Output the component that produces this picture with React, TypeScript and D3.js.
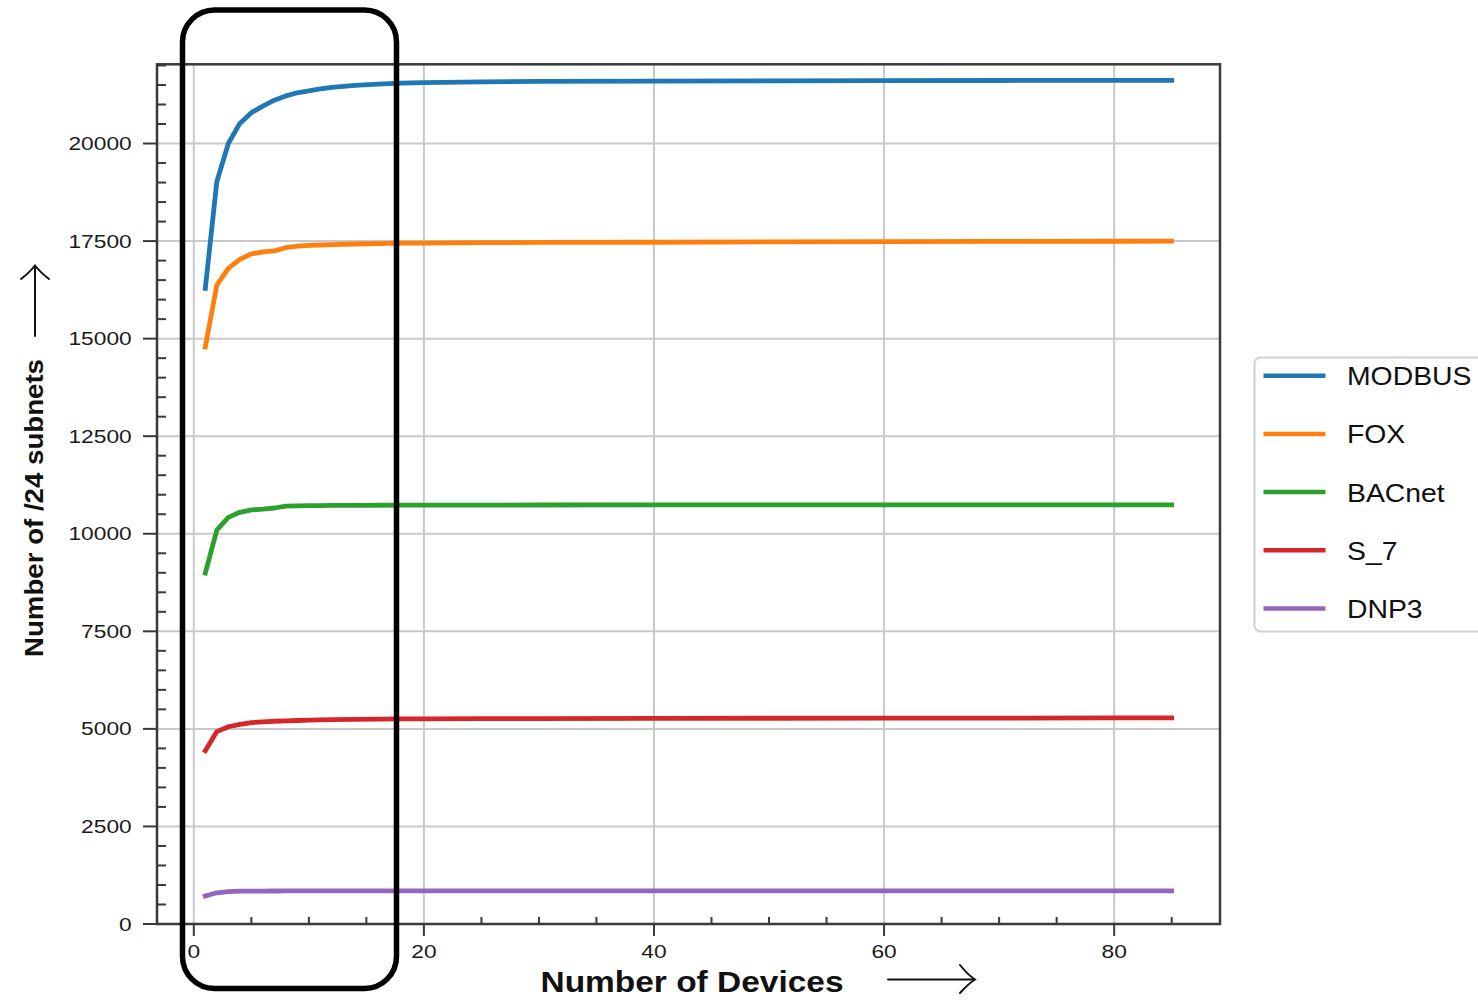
import React from "react";
import * as d3 from "d3";

// Number of devices per /24 subnet threshold
const devices = [1, 2, 3, 4, 5, 6, 7, 8, 9, 10, 11, 12, 14, 16, 18, 20, 25, 30, 40, 50, 60, 70, 80, 85];

const modbus = [16290, 19020, 20000, 20515, 20790, 20960, 21110, 21220, 21300, 21350, 21400, 21440, 21490, 21520, 21545, 21560, 21580, 21590, 21600, 21605, 21610, 21615, 21620, 21620];
const fox = [14790, 16370, 16800, 17030, 17170, 17225, 17250, 17330, 17370, 17390, 17400, 17410, 17425, 17435, 17445, 17450, 17460, 17465, 17470, 17480, 17485, 17490, 17495, 17500];
const bacnet = [8990, 10095, 10420, 10550, 10610, 10630, 10660, 10710, 10715, 10720, 10722, 10725, 10728, 10730, 10732, 10733, 10735, 10737, 10738, 10738, 10739, 10740, 10740, 10740];
const s7 = [4440, 4930, 5055, 5115, 5160, 5180, 5195, 5205, 5215, 5225, 5232, 5238, 5245, 5250, 5255, 5258, 5262, 5265, 5270, 5272, 5275, 5277, 5280, 5280];
const dnp3 = [717, 800, 830, 840, 843, 845, 846, 847, 848, 849, 850, 850, 850, 850, 850, 850, 850, 850, 850, 850, 850, 850, 850, 850];

const seriesNames = ["MODBUS", "FOX", "BACnet", "S_7", "DNP3"];
const seriesValues = [modbus, fox, bacnet, s7, dnp3];
const seriesColors = ["#1f77b4", "#ff7f0e", "#2ca02c", "#d62728", "#9467bd"];

const xMajorTicks = [0, 20, 40, 60, 80];
const xMinorTicks = [5, 10, 15, 25, 30, 35, 45, 50, 55, 65, 70, 75, 85];
const yMajorTicks = [0, 2500, 5000, 7500, 10000, 12500, 15000, 17500, 20000];

const W = 1478;
const H = 1006;
const left = 157;
const right = 1220;
const top = 64.3;
const bottom = 924;

const FONT = "'Liberation Sans', Arial, Helvetica, sans-serif";

export default function App() {
  const x = d3.scaleLinear().domain([-3.2, 89.2]).range([left, right]);
  const y = d3.scaleLinear().domain([0, 22030]).range([bottom, top]);

  const yMinorTicks = d3.range(500, 22030, 500).filter((v) => v % 2500 !== 0);

  const line = d3
    .line<number>()
    .x((_, i) => x(devices[i]))
    .y((v) => y(v));

  const spine = "#3a3a3a";
  const legendY0 = 375.7;
  const legendStep = 58.2;

  return (
    <svg
      width={W}
      height={H}
      style={{ position: "absolute", left: 0, top: 0, background: "#fff" }}
    >
      {/* grid */}
      <g stroke="#c9c9c9" strokeWidth={2}>
        {xMajorTicks.map((t) => (
          <line key={"gx" + t} x1={x(t)} x2={x(t)} y1={top} y2={bottom} />
        ))}
        {yMajorTicks.map((t) => (
          <line key={"gy" + t} x1={left} x2={right} y1={y(t)} y2={y(t)} />
        ))}
      </g>

      {/* series */}
      <g fill="none" strokeWidth={4.8} strokeLinecap="square" strokeLinejoin="round">
        {seriesValues.map((vals, i) => (
          <path key={seriesNames[i]} d={line(vals) || ""} stroke={seriesColors[i]} />
        ))}
      </g>

      {/* frame */}
      <rect
        x={left}
        y={top}
        width={right - left}
        height={bottom - top}
        fill="none"
        stroke={spine}
        strokeWidth={2.5}
      />

      {/* ticks */}
      <g stroke={spine} strokeWidth={2}>
        {xMajorTicks.map((t) => (
          <line key={"xt" + t} x1={x(t)} x2={x(t)} y1={bottom} y2={bottom + 12} />
        ))}
        {xMinorTicks.map((t) => (
          <line key={"xm" + t} x1={x(t)} x2={x(t)} y1={bottom} y2={bottom - 7} />
        ))}
        {yMajorTicks.map((t) => (
          <line key={"yt" + t} x1={left - 14} x2={left} y1={y(t)} y2={y(t)} />
        ))}
        {yMinorTicks.map((t) => (
          <line key={"ym" + t} x1={left} x2={left + 9} y1={y(t)} y2={y(t)} />
        ))}
      </g>

      {/* tick labels */}
      <g fontFamily={FONT} fontSize={17.5} fill="#1a1a1a">
        {xMajorTicks.map((t) => (
          <text
            key={"xl" + t}
            transform={`translate(${x(t)},${958.3}) scale(1.3,1)`}
            textAnchor="middle"
          >
            {t}
          </text>
        ))}
        {yMajorTicks.map((t) => (
          <text
            key={"yl" + t}
            transform={`translate(${131.7},${y(t) + 6.5}) scale(1.3,1)`}
            textAnchor="end"
          >
            {t}
          </text>
        ))}
      </g>

      {/* axis titles */}
      <text
        x={692}
        y={991.7}
        textAnchor="middle"
        fontFamily={FONT}
        fontWeight="bold"
        fontSize={29}
        textLength={303}
        lengthAdjust="spacingAndGlyphs"
        fill="#111"
      >
        Number of Devices
      </text>
      <g stroke="#111" strokeWidth={2} fill="none" strokeLinecap="round">
        <line x1={888} x2={974} y1={979.5} y2={979.5} />
        <path d="M960,965 Q968,975 975,979.5 Q968,984 960,993" />
      </g>

      <text
        transform={`translate(${43},${508}) rotate(-90)`}
        textAnchor="middle"
        fontFamily={FONT}
        fontWeight="bold"
        fontSize={26}
        textLength={298}
        lengthAdjust="spacingAndGlyphs"
        fill="#111"
      >
        Number of /24 subnets
      </text>
      <g stroke="#111" strokeWidth={2} fill="none" strokeLinecap="round">
        <line x1={35} x2={35} y1={336} y2={266} />
        <path d="M21,279 Q30,272 35,265.5 Q40,272 49,279" />
      </g>

      {/* highlight around the first devices */}
      <rect
        x={182.5}
        y={10}
        width={214}
        height={978.5}
        rx={32}
        ry={32}
        fill="none"
        stroke="#000"
        strokeWidth={5.5}
      />

      {/* legend */}
      <rect
        x={1254.5}
        y={357.5}
        width={260}
        height={274}
        rx={6}
        ry={6}
        fill="#fff"
        stroke="#d2d2d2"
        strokeWidth={2}
      />
      {seriesNames.map((name, i) => {
        const ly = legendY0 + i * legendStep;
        return (
          <g key={"lg" + name}>
            <line
              x1={1263.5}
              x2={1325.5}
              y1={ly}
              y2={ly}
              stroke={seriesColors[i]}
              strokeWidth={4.5}
            />
            <text
              transform={`translate(${1347},${ly + 9.5}) scale(1.07,1)`}
              fontFamily={FONT}
              fontSize={26.5}
              fill="#111"
            >
              {name}
            </text>
          </g>
        );
      })}
    </svg>
  );
}
